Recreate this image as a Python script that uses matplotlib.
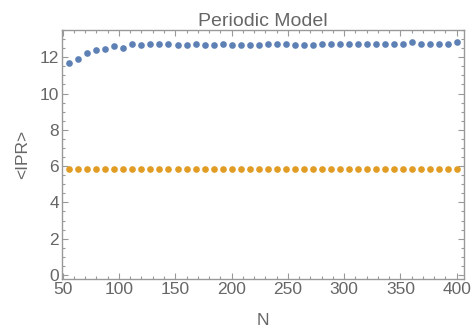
import matplotlib
matplotlib.use("Agg")
import matplotlib.pyplot as plt
from matplotlib.ticker import MultipleLocator
import numpy as np

N = list(range(56, 401, 8))
ipr_blue = [11.67, 11.91, 12.25, 12.40, 12.47, 12.60, 12.53, 12.75, 12.68, 12.75,
            12.75, 12.75, 12.68, 12.68, 12.75, 12.68, 12.68, 12.75, 12.68, 12.68,
            12.68, 12.68, 12.73, 12.75, 12.75, 12.68, 12.68, 12.68, 12.75, 12.75,
            12.75, 12.75, 12.75, 12.75, 12.75, 12.75, 12.75, 12.75, 12.83, 12.75,
            12.75, 12.75, 12.75, 12.84]
ipr_orange = [5.82] * len(N)

plt.rcParams['font.family'] = ['Liberation Sans', 'DejaVu Sans']
gray = '#666666'
framec = '#999999'

fig = plt.figure(figsize=(4.73, 3.30), dpi=100)
ax = fig.add_axes([62/473, 1-279/330, (464-62)/473, (279-30)/330])

ax.plot(N, ipr_blue, 'o', color='#5E81B5', markersize=4.8, markeredgewidth=0)
ax.plot(N, ipr_orange, 'o', color='#E19C24', markersize=4.8, markeredgewidth=0)

ax.set_xlim(49.4, 406.5)
ax.set_ylim(-0.22, 13.5)
ax.xaxis.set_major_locator(MultipleLocator(50))
ax.xaxis.set_minor_locator(MultipleLocator(10))
ax.yaxis.set_major_locator(MultipleLocator(2))
ax.yaxis.set_minor_locator(MultipleLocator(0.5))

for s in ax.spines.values():
    s.set_color(framec)
    s.set_linewidth(1.0)
ax.tick_params(which='both', direction='in', top=True, right=True, color=framec,
               labelcolor=gray, labelsize=12.5, width=0.8)
ax.tick_params(which='major', length=4.5, pad=2)
ax.tick_params(which='minor', length=2.5)

ax.set_title('Periodic Model', color=gray, fontsize=14, pad=1)
ax.set_xlabel('N', color=gray, fontsize=12.5, labelpad=12)
ax.set_ylabel('<IPR>', color=gray, fontsize=12.5, labelpad=7)

fig.savefig('out.png', dpi=100)
